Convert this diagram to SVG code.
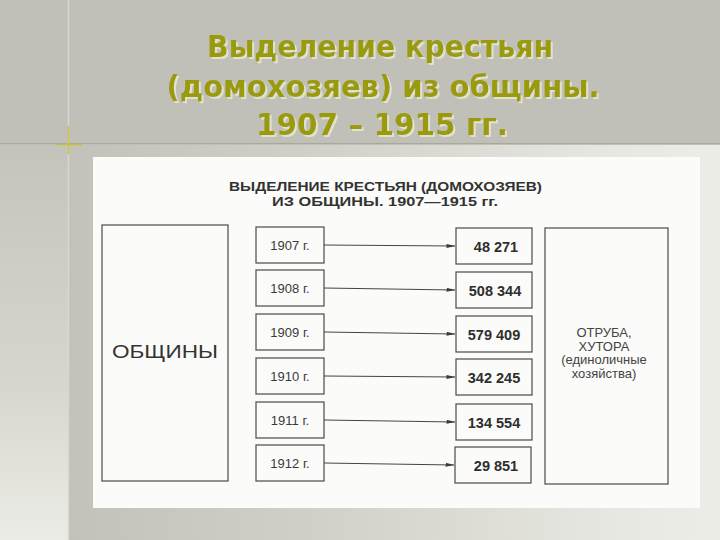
<svg xmlns="http://www.w3.org/2000/svg" width="720" height="540" viewBox="0 0 720 540">
  <defs>
    <linearGradient id="gLeft" x1="0" y1="0" x2="0" y2="1">
      <stop offset="0" stop-color="#c4c4bc"/>
      <stop offset="0.6" stop-color="#d6d6ce"/>
      <stop offset="1" stop-color="#ecece6"/>
    </linearGradient>
    <linearGradient id="gBody" x1="0" y1="0" x2="1" y2="0">
      <stop offset="0" stop-color="#c2c2ba"/>
      <stop offset="0.35" stop-color="#cfcfc7"/>
      <stop offset="0.85" stop-color="#e8e8e2"/>
      <stop offset="1" stop-color="#ededE7"/>
    </linearGradient>
    <linearGradient id="gHLine" x1="0" y1="0" x2="1" y2="0">
      <stop offset="0" stop-color="#d8d8d0"/>
      <stop offset="0.2" stop-color="#f4f4ee"/>
      <stop offset="1" stop-color="#f6f6f0"/>
    </linearGradient>
    <filter id="shadow" x="-5%" y="-20%" width="110%" height="150%">
      <feFlood flood-color="#e2e2cc"/>
      <feComposite in2="SourceAlpha" operator="in"/>
      <feOffset dx="2" dy="2" result="sh"/>
      <feMerge>
        <feMergeNode in="sh"/>
        <feMergeNode in="SourceGraphic"/>
      </feMerge>
    </filter>
    <marker id="arr" markerWidth="9" markerHeight="6" refX="8.5" refY="3" orient="auto" markerUnits="userSpaceOnUse">
      <path d="M0,1 L9,3 L0,5 z" fill="#3c3c3c"/>
    </marker>
    <style>
      .title { font-family: "DejaVu Sans", "Liberation Sans", sans-serif; font-weight: bold; font-size: 30px; text-anchor: middle; fill: #9a9a0c; }
      .box { fill: none; stroke: #4a4a4a; stroke-width: 1.2; }
      .head { font-family: "Liberation Sans", Arial, sans-serif; font-weight: bold; font-size: 12.5px; fill: #333; text-anchor: middle; }
      .year { font-family: "Liberation Sans", Arial, sans-serif; font-size: 13px; fill: #3a3a3a; text-anchor: middle; }
      .val { font-family: "Liberation Sans", Arial, sans-serif; font-weight: bold; font-size: 14.5px; fill: #2e2e2e; text-anchor: middle; }
      .lbl { font-family: "Liberation Sans", Arial, sans-serif; font-size: 13px; fill: #444; text-anchor: middle; }
      .big { font-family: "Liberation Sans", Arial, sans-serif; font-size: 18px; fill: #333; text-anchor: middle; }
      .conn { stroke: #444; stroke-width: 1; fill: none; marker-end: url(#arr); }
    </style>
  </defs>

  <!-- slide background -->
  <rect x="0" y="0" width="720" height="145" fill="#c0c0b8"/>
  <rect x="0" y="145" width="68" height="395" fill="url(#gLeft)"/>
  <rect x="68" y="145" width="652" height="395" fill="url(#gBody)"/>
  <!-- decorative lines -->
  <line x1="0" y1="143.5" x2="720" y2="143.5" stroke="#a8a8a0" stroke-width="1"/>
  <line x1="0" y1="145.5" x2="720" y2="145.5" stroke="url(#gHLine)" stroke-width="2"/>
  <line x1="68.5" y1="0" x2="68.5" y2="540" stroke="#d8d8d0" stroke-width="1.5"/>
  <line x1="68.5" y1="126" x2="68.5" y2="154" stroke="#c8c020" stroke-width="1.5" opacity="0.8"/>
  <line x1="56" y1="144.5" x2="82" y2="144.5" stroke="#c8c020" stroke-width="1.5" opacity="0.8"/>

  <!-- title -->
  <g id="title" filter="url(#shadow)">
    <text class="title" x="380" y="57" textLength="346" lengthAdjust="spacingAndGlyphs">Выделение крестьян</text>
    <text class="title" x="383" y="97" textLength="433" lengthAdjust="spacingAndGlyphs">(домохозяев) из общины.</text>
    <text class="title" x="382" y="135" textLength="252" lengthAdjust="spacingAndGlyphs">1907 – 1915 гг.</text>
  </g>

  <!-- scanned panel -->
  <rect x="93" y="157" width="607" height="351" fill="#fbfbf9"/>

  <g id="heading">
    <text class="head" x="385.5" y="191" textLength="313" lengthAdjust="spacingAndGlyphs">ВЫДЕЛЕНИЕ КРЕСТЬЯН (ДОМОХОЗЯЕВ)</text>
    <text class="head" x="385" y="206" textLength="226" lengthAdjust="spacingAndGlyphs">ИЗ ОБЩИНЫ. 1907—1915 гг.</text>
  </g>

  <g id="obshchiny">
    <rect class="box" x="102" y="225" width="126" height="256"/>
    <text class="big" x="165" y="358" textLength="106" lengthAdjust="spacingAndGlyphs">ОБЩИНЫ</text>
  </g>

  <g id="y1907"><rect class="box" x="256" y="227" width="68" height="36"/><text class="year" x="290" y="249.5">1907 г.</text></g>
  <g id="y1908"><rect class="box" x="256" y="270" width="68" height="36"/><text class="year" x="290" y="292.5">1908 г.</text></g>
  <g id="y1909"><rect class="box" x="256" y="314" width="68" height="36"/><text class="year" x="290" y="336.5">1909 г.</text></g>
  <g id="y1910"><rect class="box" x="256" y="358" width="68" height="36"/><text class="year" x="290" y="380.5">1910 г.</text></g>
  <g id="y1911"><rect class="box" x="256" y="402" width="68" height="36"/><text class="year" x="290" y="424.5">1911 г.</text></g>
  <g id="y1912"><rect class="box" x="256" y="445" width="68" height="36"/><text class="year" x="290" y="467.5">1912 г.</text></g>

  <g id="v1907"><rect class="box" x="456" y="228" width="76" height="36"/><text class="val" x="496" y="251.5">48 271</text></g>
  <g id="v1908"><rect class="box" x="456" y="272" width="76" height="36"/><text class="val" x="495" y="295.5">508 344</text></g>
  <g id="v1909"><rect class="box" x="456" y="316" width="76" height="36"/><text class="val" x="494" y="339.5">579 409</text></g>
  <g id="v1910"><rect class="box" x="456" y="359" width="76" height="36"/><text class="val" x="494" y="382.5">342 245</text></g>
  <g id="v1911"><rect class="box" x="456" y="404" width="76" height="36"/><text class="val" x="494" y="427.5">134 554</text></g>
  <g id="v1912"><rect class="box" x="455" y="447" width="76" height="36"/><text class="val" x="496" y="470.5">29 851</text></g>

  <g id="otruba">
    <rect class="box" x="545" y="228" width="123" height="256"/>
    <text class="lbl" x="604" y="337">ОТРУБА,</text>
    <text class="lbl" x="604" y="350.5">ХУТОРА</text>
    <text class="lbl" x="604" y="364">(единоличные</text>
    <text class="lbl" x="604" y="377.5">хозяйства)</text>
  </g>

  <g id="connectors">
    <line class="conn" x1="324" y1="245" x2="455" y2="246"/>
    <line class="conn" x1="324" y1="288" x2="455" y2="290"/>
    <line class="conn" x1="324" y1="332" x2="455" y2="334"/>
    <line class="conn" x1="324" y1="376" x2="455" y2="377"/>
    <line class="conn" x1="324" y1="420" x2="455" y2="422"/>
    <line class="conn" x1="324" y1="463" x2="454" y2="465"/>
  </g>
</svg>
